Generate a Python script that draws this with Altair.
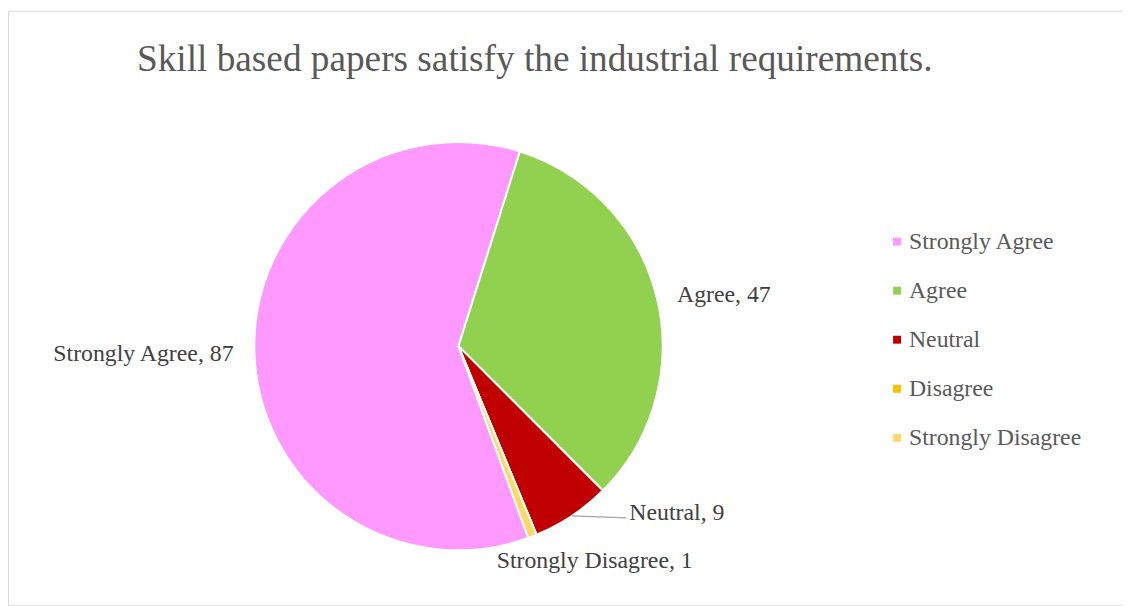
import math
import altair as alt
import pandas as pd

# ---- data ----
title_text = "Skill based papers satisfy the industrial requirements."
categories = ["Strongly Agree", "Agree", "Neutral", "Disagree", "Strongly Disagree"]
counts = [87, 47, 9, 0, 1]
colors = ["#FF99FF", "#92D050", "#C00000", "#FFC000", "#FFD966"]

df = pd.DataFrame({"category": categories, "count": counts, "order": list(range(len(categories)))})

# ---- layout constants ----
W, H = 1125, 600
CX, CY, R = 454.5, 338.5, 206
START = math.radians(160)
FONT = "Liberation Serif"

base = alt.Chart(df)

pie = base.mark_arc(outerRadius=R, stroke="white", strokeWidth=2).encode(
    theta=alt.Theta("count:Q", stack=True, scale=alt.Scale(range=[START, START + 2 * math.pi])),
    color=alt.Color(
        "category:N",
        sort=categories,
        scale=alt.Scale(domain=categories, range=colors),
        legend=alt.Legend(
            title=None, orient="none", legendX=885, legendY=221,
            symbolType="square", symbolSize=64, symbolStrokeWidth=0,
            labelFont=FONT, labelFontSize=24, labelColor="#595959",
            rowPadding=25.5, labelOffset=0, padding=0, labelLimit=400,
        ),
    ),
    order=alt.Order("order:Q"),
    x=alt.value(CX),
    y=alt.value(CY),
)

lab_base = (
    base.transform_joinaggregate(total="sum(count)")
    .transform_window(cum="sum(count)", sort=[alt.SortField("order")], frame=[None, 0])
    .transform_calculate(
        mid=f"{START} + (datum.cum - datum.count / 2) / datum.total * 2 * PI",
        label="datum.category + ', ' + datum.count",
    )
)


def label_layer(cat, r, align, dx=0, dy=0):
    return (
        lab_base.transform_filter(alt.datum.category == cat)
        .transform_calculate(
            px=f"{CX} + {r} * sin(datum.mid)",
            py=f"{CY} - {r} * cos(datum.mid)",
        )
        .mark_text(font=FONT, fontSize=24, color="#404040", align=align, baseline="middle", dx=dx, dy=dy)
        .encode(x=alt.X("px:Q", scale=None), y=alt.Y("py:Q", scale=None), text="label:N")
    )


lbl_sa = label_layer("Strongly Agree", 227, "right", dy=3)
lbl_a = label_layer("Agree", 227, "left", dy=2)
lbl_sd = label_layer("Strongly Disagree", 233, "center", dx=53)
lbl_n = label_layer("Neutral", R, "left", dx=58, dy=-3)

leader = (
    lab_base.transform_filter(alt.datum.category == "Neutral")
    .transform_calculate(
        px=f"{CX} + {R} * sin(datum.mid)",
        py=f"{CY} - {R} * cos(datum.mid)",
        px2=f"{CX} + {R} * sin(datum.mid) + 55",
        py2=f"{CY} - {R} * cos(datum.mid) + 2",
    )
    .mark_rule(color="#a6a6a6", strokeWidth=1.2)
    .encode(
        x=alt.X("px:Q", scale=None), y=alt.Y("py:Q", scale=None),
        x2="px2:Q", y2="py2:Q",
    )
)

title = (
    alt.Chart(pd.DataFrame({"t": [title_text]}))
    .mark_text(font=FONT, fontSize=37.6, color="#595959", align="center", baseline="alphabetic")
    .encode(x=alt.value(531.5), y=alt.value(61), text="t:N")
)

chart = (
    alt.layer(pie, leader, lbl_sa, lbl_a, lbl_n, lbl_sd, title)
    .properties(width=W, height=H, autosize=alt.AutoSizeParams(type="none"), padding=0)
    .configure_view(stroke="#d9d9d9", strokeWidth=1)
)

chart.save("out.html", embed_options={"renderer": "svg", "actions": False})
